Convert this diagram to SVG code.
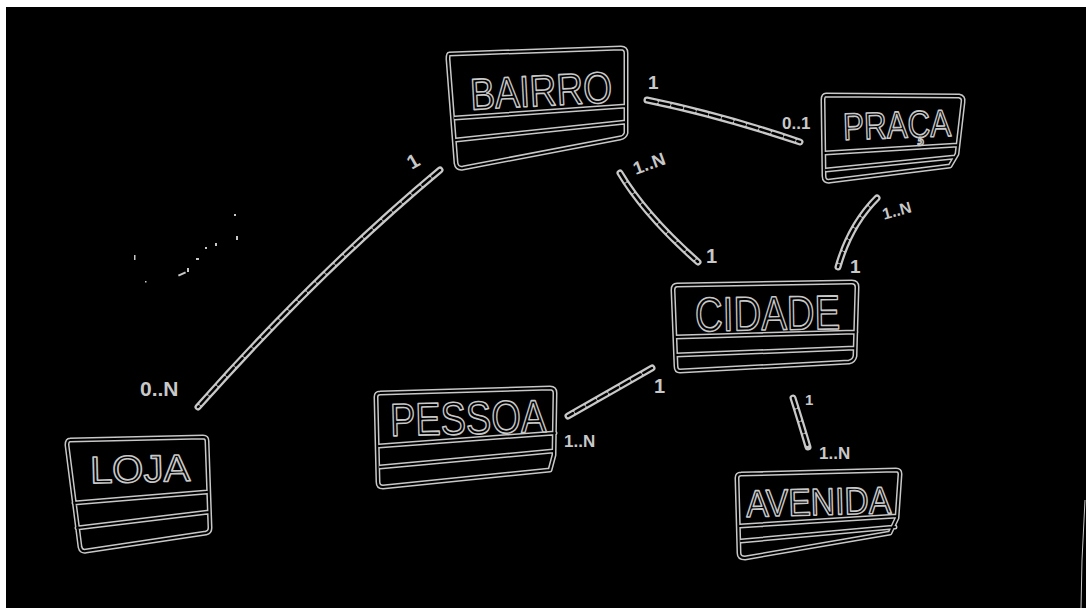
<svg xmlns="http://www.w3.org/2000/svg" xmlns:xlink="http://www.w3.org/1999/xlink" width="1086" height="608" viewBox="0 0 1086 608">
<style>
.o{fill:none;stroke:#c8c8c8;stroke-width:5;stroke-linejoin:round;stroke-linecap:round}
.i{fill:none;stroke:#000;stroke-width:2;stroke-linejoin:round;stroke-linecap:round}
.co{fill:none;stroke:#c8c8c8;stroke-width:7;stroke-linecap:round}
.ci{fill:none;stroke:#000;stroke-width:2.5;stroke-linecap:round;stroke-dasharray:10 3}
.t{font-family:"Liberation Sans",Arial,sans-serif;fill:#000;stroke:#c8c8c8;stroke-width:1.6;stroke-linejoin:round}
.l{font-family:"Liberation Sans",Arial,sans-serif;font-weight:bold;fill:#c8c8c8}
</style>
<defs>
<path id="sBairro" d="M449,54 L621,48 Q626,48 626,53 L626,133 Q625,137 620,138 L463,168 Q457,169 456,163 L448,59 Q448,54 449,54 Z M455,118 L626,106 M456,140 L626,122"/>
<path id="sPraca" d="M826,95 L959,96 Q964,97 963,102 L957,154 L950,166 L830,181 Q824,182 824,176 L823,100 Q823,95 826,95 Z M825,153 L958,145 M826,170 L955,157"/>
<path id="sCidade" d="M677,285 L852,282 Q857,282 857,287 L855,356 Q854,361 849,362 L680,371 Q676,371 676,366 L673,290 Q673,285 677,285 Z M675,337 L856,332 M676,355 L855,348"/>
<path id="sPessoa" d="M380,393 L550,388 Q555,388 555,393 L554,455 L550,470 L383,487 Q378,487 378,482 L376,397 Q376,393 380,393 Z M379,446 L555,433 M380,467 L553,451"/>
<path id="sLoja" d="M70,440 L203,437 Q207,437 207,441 L210,528 Q210,532 206,533 L86,551 Q81,552 80,547 L67,445 Q67,440 70,440 Z M74,503 L207,492 M77,528 L209,512"/>
<path id="sAvenida" d="M741,474 L896,470 Q900,470 900,474 L897,518 L890,533 L745,558 Q739,558 739,553 L737,478 Q737,474 741,474 Z M740,526 L897,516 M741,541 L895,527"/>
</defs>
<rect x="0" y="0" width="1086" height="608" fill="#fff"/>
<rect x="6" y="7" width="1080" height="601" fill="#000"/>

<g id="connectors">
<path class="co" d="M440,170 Q320,270 198,407"/>
<path class="ci" d="M440,170 Q320,270 198,407"/>
<path class="co" d="M647,100 Q720,115 800,142"/>
<path class="ci" d="M647,100 Q720,115 800,142"/>
<path class="co" d="M620,173 Q645,215 698,262"/>
<path class="ci" d="M620,173 Q645,215 698,262"/>
<path class="co" d="M877,198 Q850,225 838,267"/>
<path class="ci" d="M877,198 Q850,225 838,267"/>
<path class="co" d="M652,368 L568,416"/>
<path class="ci" d="M652,368 L568,416"/>
<path class="co" d="M793,398 Q800,420 808,447"/>
<path class="ci" d="M793,398 Q800,420 808,447"/>
<text class="l" x="407" y="168" font-size="20" transform="rotate(-30 413 160)">1</text>
<text class="l" x="140" y="396" font-size="21">0..N</text>
<text class="l" x="648" y="89" font-size="19">1</text>
<text class="l" x="782" y="129" font-size="17">0..1</text>
<text class="l" x="632" y="170" font-size="18" transform="rotate(-20 648 162)">1..N</text>
<text class="l" x="706" y="263" font-size="20">1</text>
<text class="l" x="882" y="216" font-size="16" transform="rotate(-15 897 210)">1..N</text>
<text class="l" x="850" y="273" font-size="19">1</text>
<text class="l" x="654" y="393" font-size="20">1</text>
<text class="l" x="564" y="447" font-size="17">1..N</text>
<text class="l" x="805" y="405" font-size="15">1</text>
<text class="l" x="819" y="459" font-size="17">1..N</text>
</g>

<g id="bairro">
<use xlink:href="#sBairro" class="o"/><use xlink:href="#sBairro" class="i"/>
<text class="t" x="470" y="106" font-size="44" textLength="142" lengthAdjust="spacingAndGlyphs" transform="rotate(-3 540 90)">BAIRRO</text>
</g>
<g id="praca">
<use xlink:href="#sPraca" class="o"/><use xlink:href="#sPraca" class="i"/>
<text class="t" x="843" y="138" font-size="38" textLength="108" lengthAdjust="spacingAndGlyphs" transform="rotate(-2 897 124)">PRAÇA</text>
</g>
<g id="cidade">
<use xlink:href="#sCidade" class="o"/><use xlink:href="#sCidade" class="i"/>
<text class="t" x="695" y="330" font-size="48" textLength="145" lengthAdjust="spacingAndGlyphs" transform="rotate(-1 767 312)">CIDADE</text>
</g>
<g id="pessoa">
<use xlink:href="#sPessoa" class="o"/><use xlink:href="#sPessoa" class="i"/>
<text class="t" x="390" y="434" font-size="46" textLength="156" lengthAdjust="spacingAndGlyphs" transform="rotate(-1.5 467 416)">PESSOA</text>
</g>
<g id="loja">
<use xlink:href="#sLoja" class="o"/><use xlink:href="#sLoja" class="i"/>
<text class="t" x="90" y="482" font-size="38" textLength="100" lengthAdjust="spacingAndGlyphs" transform="rotate(-1.5 140 468)">LOJA</text>
</g>
<g id="avenida">
<use xlink:href="#sAvenida" class="o"/><use xlink:href="#sAvenida" class="i"/>
<text class="t" x="746" y="515" font-size="38" textLength="145" lengthAdjust="spacingAndGlyphs" transform="rotate(-1.5 818 500)">AVENIDA</text>
</g>

<g id="specks" fill="#c8c8c8">
<rect x="134" y="255" width="1.5" height="5"/>
<rect x="178" y="273" width="8" height="2" transform="rotate(-25 182 274)"/>
<rect x="187" y="268" width="2" height="4"/>
<rect x="196" y="258" width="3" height="2"/>
<rect x="205" y="247" width="2" height="2"/>
<rect x="215" y="243" width="2" height="3"/>
<rect x="236" y="236" width="2" height="4"/>
<rect x="234" y="214" width="2" height="2"/>
<rect x="145" y="281" width="1.5" height="1.5"/>
<path d="M1085,500 L1082,560 L1081,608" fill="none" stroke="#c8c8c8" stroke-width="1"/>
</g>
</svg>
